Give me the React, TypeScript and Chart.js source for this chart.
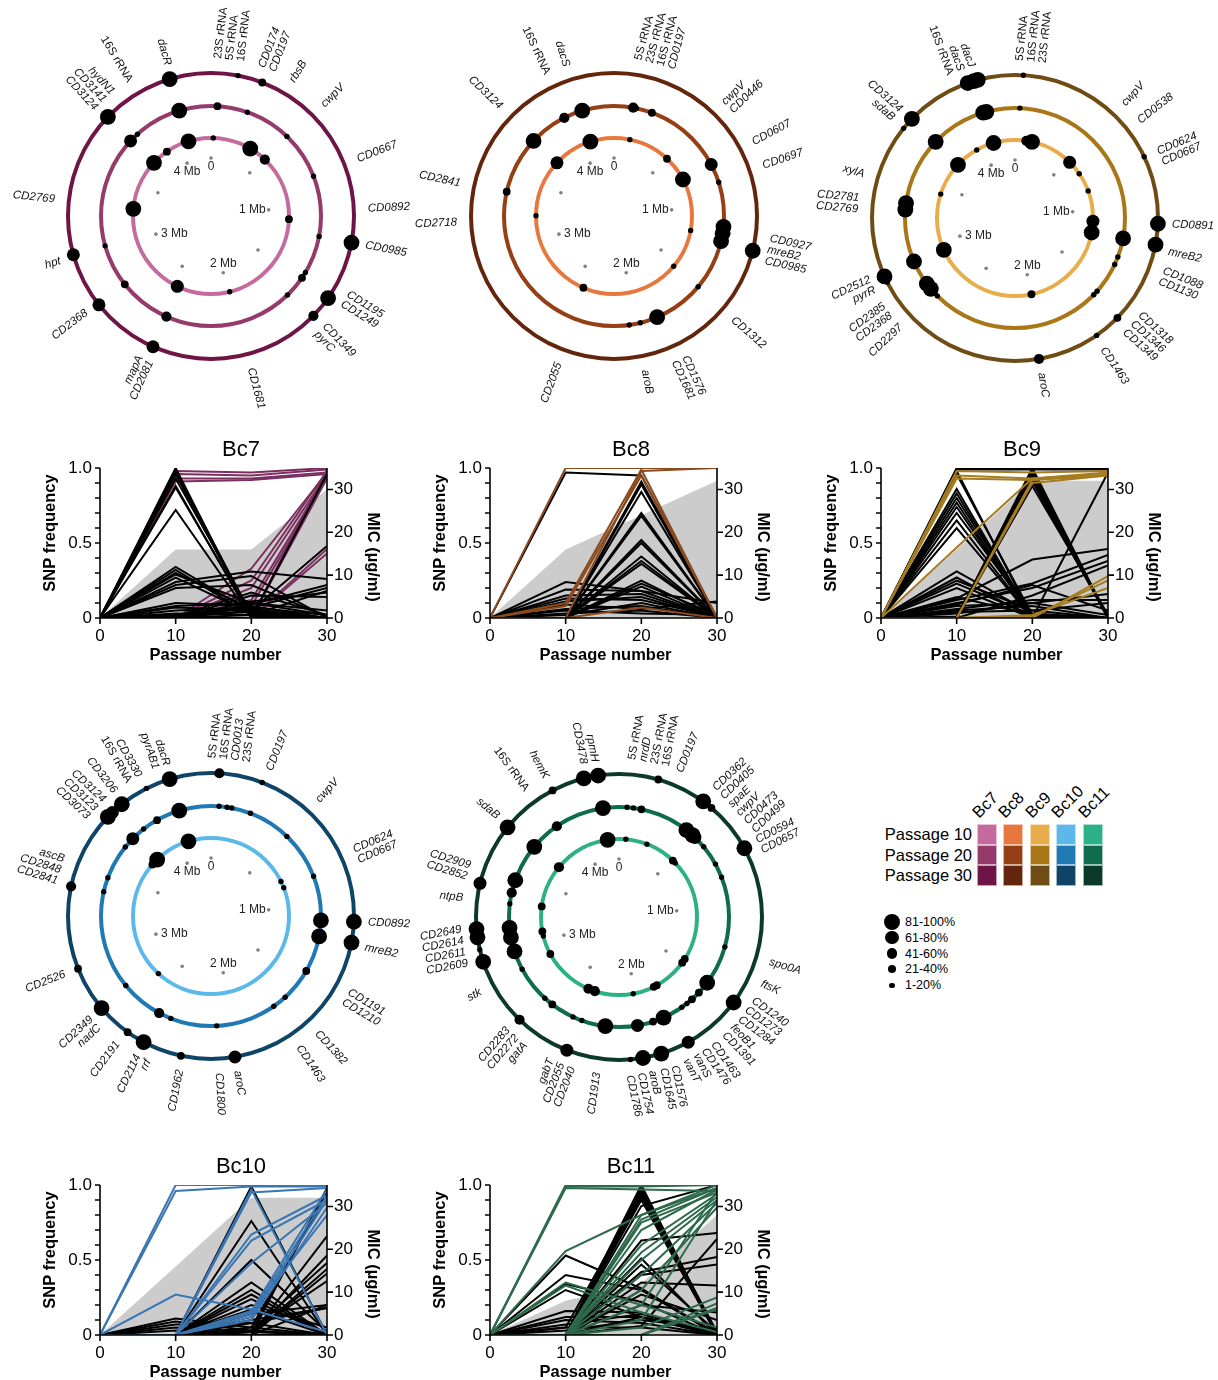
import React, { useEffect, useRef } from 'react';
import { Chart, registerables } from 'chart.js';

Chart.register(...registerables);

const FONT = "'Liberation Sans', Arial, Helvetica, sans-serif";

// ---- shared axes / scales ----
const GENOME_MB = 4.29;
const PASSAGES = [0, 10, 20, 30];
const MB_TICKS = [0, 0.5, 1, 1.5, 2, 2.5, 3, 3.5, 4];
const MB_LABELS = [0, 1, 2, 3, 4];
const FREQ_TICKS = [0, 0.1, 0.2, 0.3, 0.4, 0.5, 0.6, 0.7, 0.8, 0.9, 1];
const MIC_TICKS = [0, 10, 20, 30];
const SIZE_CLASSES = ['81-100%', '61-80%', '41-60%', '21-40%', '1-20%'];
const STRAINS = ['Bc7', 'Bc8', 'Bc9', 'Bc10', 'Bc11'];
const PASSAGE_ROWS = ['Passage 10', 'Passage 20', 'Passage 30'];

// ---- SNP positions on the genome map: [position (Mb), frequency class 1..5] ----
const bc7P10 = [[4.09, 5], [0.02, 1], [0.36, 5], [0.52, 3], [1.10, 2], [1.98, 1], [2.45, 4], [3.28, 5], [3.73, 5], [3.88, 2]];
const bc7P20 = [[4.09, 5], [0.04, 2], [0.23, 1], [0.52, 1], [0.82, 1], [1.20, 1], [1.44, 1], [1.48, 2], [1.62, 1], [2.43, 3], [2.76, 2], [3.03, 1], [3.73, 4], [3.79, 1]];
const bc7P30 = [[4.09, 5], [0.13, 1], [0.25, 2], [1.20, 5], [1.49, 5], [1.60, 3], [2.43, 4], [2.76, 4], [3.03, 4], [3.74, 5]];
const bc7Genes = [
  [0.08, '23S rRNA\n5S rRNA\n16S rRNA'], [0.25, 'CD0174\nCD0197'], [0.37, 'rbsB'], [0.54, 'cwpV'],
  [0.82, 'CD0667'], [1.04, 'CD0892'], [1.20, 'CD0985'], [1.45, 'CD1195\nCD1249'], [1.62, 'CD1349\npyrC'],
  [1.97, 'CD1681'], [2.44, 'mapA\nCD2081'], [2.77, 'CD2368'], [3.02, 'hpt'], [3.29, 'CD2769'],
  [3.78, 'hydN1\nCD3141\nCD3124'], [3.92, '16S rRNA'], [4.10, 'dacR'],
];

const bc8P10 = [[4.08, 5], [0.14, 1], [0.51, 2], [0.74, 5], [1.20, 1], [1.55, 1], [2.42, 2], [3.22, 1], [3.73, 4]];
const bc8P20 = [[4.09, 5], [3.97, 3], [0.12, 3], [0.14, 1], [0.24, 2], [0.74, 4], [0.86, 1], [1.14, 5], [1.18, 5], [1.23, 5], [1.55, 1], [1.87, 5], [1.98, 1], [2.05, 1], [3.73, 5], [3.37, 2]];
const bc8P30 = [[1.24, 5]];
const bc8Genes = [
  [0.18, '5S rRNA\n23S rRNA\n16S rRNA\nCD0197'], [0.55, 'cwpV\nCD0446'], [0.74, 'CD0607'], [0.85, 'CD0697'],
  [1.22, 'CD0927\nmreB2\nCD0985'], [1.56, 'CD1312'], [1.85, 'CD1576\nCD1681'], [2.01, 'aroB'], [2.39, 'CD2055'],
  [3.19, 'CD2718'], [3.36, 'CD2841'], [3.74, 'CD3124'], [3.99, '16S rRNA'], [4.08, 'dacS'],
];

const bc9P10 = [[4.10, 5], [3.94, 1], [0.15, 5], [0.10, 3], [0.53, 4], [0.66, 1], [0.83, 1], [1.10, 4], [1.20, 5], [2.00, 2], [2.93, 5], [3.43, 1], [3.73, 5]];
const bc9P20 = [[4.09, 5], [4.11, 5], [0.03, 1], [1.20, 5], [1.32, 1], [1.37, 1], [1.57, 1], [1.60, 1], [2.68, 1], [2.78, 5], [2.74, 5], [2.94, 5], [3.27, 5], [3.31, 5], [3.74, 5]];
const bc9P30 = [[4.06, 5], [4.09, 5], [4.11, 5], [0.04, 1], [0.77, 1], [1.10, 5], [1.20, 5], [1.60, 2], [1.73, 1], [2.03, 3], [2.93, 5], [2.90, 1], [3.74, 5], [3.68, 1]];
const bc9Genes = [
  [0.07, '5S rRNA\n16S rRNA\n23S rRNA'], [0.52, 'cwpV'], [0.62, 'CD0538'], [0.80, 'CD0624\nCD0667'],
  [1.10, 'CD0891'], [1.22, 'mreB2'], [1.33, 'CD1088\nCD1130'], [1.57, 'CD1318\nCD1346\nCD1349'],
  [1.74, 'CD1463'], [2.03, 'aroC'], [2.70, 'CD2297'], [2.79, 'CD2385\nCD2368'], [2.92, 'CD2512\npyrR'],
  [3.28, 'CD2781\nCD2769'], [3.41, 'xylA'], [3.71, 'CD3124\nsdaB'], [4.05, 'dacJ\ndacS\n16S rRNA'],
];

const bc10P10 = [[4.09, 5], [3.77, 5], [3.71, 2], [2.65, 1], [0.76, 1], [0.82, 1]];
const bc10P20 = [[4.09, 5], [3.94, 2], [3.84, 1], [3.75, 4], [3.68, 1], [3.46, 1], [3.37, 1], [2.75, 1], [2.48, 3], [2.40, 1], [2.11, 1], [1.73, 1], [1.64, 1], [1.43, 2], [1.10, 5], [1.20, 5], [0.82, 1], [0.52, 1], [0.25, 1], [0.05, 1], [0.10, 1], [0.13, 1]];
const bc10P30 = [[4.09, 5], [3.97, 1], [3.83, 5], [3.74, 5], [3.77, 4], [0.04, 3], [0.25, 1], [1.10, 5], [1.20, 5], [2.03, 4], [2.29, 2], [2.48, 5], [2.57, 2], [2.74, 5], [2.96, 2], [3.36, 3]];
const bc10Genes = [
  [0.08, '5S rRNA\n16S rRNA\nCD0013\n23S rRNA'], [0.26, 'CD0197'], [0.51, 'cwpV'], [0.80, 'CD0624\nCD0667'],
  [1.10, 'CD0892'], [1.21, 'mreB2'], [1.44, 'CD1191\nCD1210'], [1.64, 'CD1382'], [1.74, 'CD1463'],
  [2.03, 'aroC'], [2.11, 'CD1800'], [2.28, 'CD1962'], [2.45, 'CD2114\nrrf'], [2.58, 'CD2191'],
  [2.71, 'CD2349\nnadC'], [2.96, 'CD2526'], [3.42, 'ascB\nCD2848\nCD2841'], [3.73, 'CD3124\nCD3123\nCD3073'],
  [3.84, 'CD3206'], [3.94, 'CD3330\n16S rRNA'], [4.07, 'dacR\npyrAB1'],
];

const bc11P10 = [[4.19, 5], [0.06, 1], [0.25, 1], [0.52, 2], [0.55, 1], [3.69, 3], [3.31, 2], [3.09, 2], [3.05, 1], [2.88, 2], [2.36, 3], [2.42, 3], [2.02, 1], [1.80, 2], [1.83, 2], [1.46, 2], [1.50, 2]];
const bc11P20 = [[4.19, 5], [0.05, 1], [0.09, 1], [0.14, 2], [0.45, 5], [0.50, 5], [0.52, 4], [0.60, 1], [0.73, 1], [0.82, 1], [1.26, 1], [1.51, 5], [1.59, 2], [1.65, 2], [1.69, 1], [1.73, 1], [1.86, 5], [1.93, 2], [2.03, 4], [2.23, 5], [2.38, 1], [2.44, 1], [2.59, 2], [2.65, 1], [2.88, 1], [3.00, 5], [3.09, 5], [3.15, 5], [3.30, 1], [3.37, 3], [3.45, 5], [3.69, 5], [3.88, 3]];
const bc11P30 = [[4.12, 5], [4.19, 5], [0.19, 2], [0.43, 5], [0.48, 2], [0.73, 5], [1.51, 5], [1.80, 4], [1.94, 5], [2.03, 5], [2.09, 1], [2.40, 4], [2.67, 3], [3.00, 5], [3.06, 1], [3.12, 5], [3.16, 5], [3.38, 4], [3.68, 5], [3.96, 2]];
const bc11Genes = [
  [0.13, '5S rRNA\nnrdD\n23S rRNA\n16S rRNA'], [0.27, 'CD0197'], [0.56, 'CD0362\nCD0405\nspaE\ncwpV\nCD0473\nCD0499'],
  [0.75, 'CD0594\nCD0657'], [1.27, 'spo0A'], [1.37, 'ftsK'], [1.50, 'CD1240\nCD1273\nCD1284'], [1.62, 'feoB1\nCD1391'],
  [1.73, 'CD1463\nCD1476'], [1.82, 'vanS\nvanT'], [2.00, 'CD1576\nCD1645\naroB\nCD1754\nCD1786'], [2.24, 'CD1913'],
  [2.40, 'gabT\nCD2055\nCD2040'], [2.63, 'CD2283\nCD2272\ngatA'], [2.88, 'stk'], [3.09, 'CD2649\nCD2614\nCD2611\nCD2609'],
  [3.30, 'ntpB'], [3.42, 'CD2909\nCD2852'], [3.69, 'sdaB'], [3.86, '16S rRNA'], [3.96, 'hemK'], [4.16, 'rpmH\nCD3478'],
];

// ---- SNP frequency trajectories, values at passages 0, 10, 20, 30 ----
const bc7Mic = [0, 16, 16, 30];
const bc7Fixed = [
  [0, 0.98, 0.97, 1.0], [0, 0.96, 0.95, 0.99], [0, 0.93, 0.93, 0.97], [0, 0.91, 0.92, 0.96],
  [0, 0, 0.33, 0.97], [0, 0, 0.25, 0.98], [0, 0, 0.2, 0.96], [0, 0, 0.12, 0.95], [0, 0, 0.08, 0.94],
  [0, 0, 0, 0.99], [0, 0, 0, 0.93], [0, 0, 0, 0.46], [0, 0, 0, 0.43],
];
const bc7Other = [
  [0, 1.0, 0, 0], [0, 0.98, 0.02, 0], [0, 0.96, 0, 0], [0, 0.93, 0.03, 0], [0, 0.88, 0, 0], [0, 0.87, 0.01, 0], [0, 0.72, 0, 0],
  [0, 0.34, 0.04, 0], [0, 0.32, 0.02, 0], [0, 0.30, 0.06, 0], [0, 0.29, 0.1, 0.02], [0, 0.27, 0.03, 0], [0, 0.24, 0.31, 0.26],
  [0, 0.22, 0.28, 0], [0, 0.2, 0.22, 0.01], [0, 0.1, 0.08, 0], [0, 0.08, 0.1, 0.05], [0, 0.07, 0.05, 0], [0, 0.05, 0.07, 0.02],
  [0, 0.03, 0.02, 0], [0, 0.02, 0.04, 0], [0, 0, 0.05, 0.48], [0, 0, 0.09, 0.22], [0, 0, 0.07, 0.2], [0, 0, 0.11, 0.17],
  [0, 0, 0.15, 0.14], [0, 0, 0.02, 0.18], [0, 0, 0, 0.96], [0, 0.01, 0.17, 0.02],
];

const bc8Mic = [0, 16, 24, 32];
const bc8Fixed = [
  [0, 1.0, 1.0, 1.0], [0, 0.1, 0.99, 0], [0, 0, 0.98, 1.0], [0, 0.08, 0.95, 0], [0, 0, 0.07, 0],
];
const bc8Other = [
  [0, 0.97, 0.95, 0], [0, 0, 0.91, 0], [0, 0, 0.89, 0], [0, 0, 0.84, 0], [0, 0, 0.7, 0], [0, 0, 0.68, 0], [0, 0, 0.52, 0],
  [0, 0, 0.5, 0], [0, 0, 0.41, 0], [0, 0, 0.38, 0], [0, 0, 0.36, 0], [0, 0, 0.25, 0], [0, 0, 0.23, 0.02], [0, 0, 0.21, 0],
  [0, 0.24, 0.18, 0], [0, 0.19, 0.18, 0.1], [0, 0.15, 0.16, 0], [0, 0.13, 0.12, 0.01], [0, 0.11, 0.14, 0], [0, 0.09, 0.06, 0.11],
  [0, 0.06, 0.08, 0], [0, 0.05, 0.03, 0.02], [0, 0.02, 0.1, 0], [0, 0.03, 0.05, 0],
];

const bc9Mic = [0, 16, 32, 32];
const bc9Fixed = [
  [0, 0.98, 0.97, 0.98], [0, 0.95, 0.93, 0.96], [0, 0.93, 0.92, 0.95], [0, 0.47, 0.93, 0.97],
  [0, 0, 0.92, 0.96], [0, 0, 0.9, 0.95], [0, 0, 0, 0.28], [0, 0, 0.01, 0.25], [0, 0, 0.02, 0.2],
];
const bc9Other = [
  [0, 1.0, 1.0, 1.0], [0, 0.99, 0.99, 0.99], [0, 0.98, 0, 0], [0, 0.96, 0.02, 0], [0, 0.86, 0, 0], [0, 0.83, 0, 0],
  [0, 0.8, 0.01, 0], [0, 0.77, 0, 0], [0, 0.74, 0, 0], [0, 0.7, 0.02, 0], [0, 0.65, 0, 0], [0, 0.6, 0, 0],
  [0, 0, 1.0, 0], [0, 0, 0.98, 0], [0, 0, 0.96, 0.01], [0, 0, 0.94, 0], [0, 0, 0.91, 0], [0, 0, 0.88, 0.02], [0, 0.01, 0.93, 0],
  [0, 0.31, 0.03, 0], [0, 0.27, 0, 0], [0, 0.25, 0.05, 0], [0, 0.23, 0.02, 0], [0, 0.2, 0, 0], [0, 0.14, 0.02, 0],
  [0, 0.13, 0.39, 0.46], [0, 0.12, 0.23, 0.42], [0, 0.1, 0.2, 0.38], [0, 0.09, 0.22, 0.05], [0, 0.08, 0.1, 0.16],
  [0, 0.06, 0.12, 0.12], [0, 0.04, 0.05, 0.1], [0, 0, 0, 0.97], [0, 0, 0.15, 0.35], [0, 0.05, 0.08, 0], [0, 0.03, 0.1, 0.02],
];

const bc10Mic = [0, 16, 32, 32];
const bc10Fixed = [
  [0, 1.0, 1.0, 1.0], [0, 0.96, 0.99, 0.99], [0, 0.27, 0.17, 0.02], [0, 0, 0.97, 0], [0, 0, 0.95, 0.98],
  [0, 0, 0.67, 0.93], [0, 0, 0.63, 0.9], [0, 0, 0.48, 0.88], [0, 0, 0.16, 0.97], [0, 0, 0.14, 0.93],
  [0, 0, 0.12, 0.9], [0, 0, 0.1, 0.85], [0, 0, 0.15, 0.8],
];
const bc10Other = [
  [0, 0, 0.99, 0], [0, 0, 0.76, 0], [0, 0, 0.5, 0.02], [0, 0, 0.35, 0], [0, 0, 0.3, 0], [0, 0, 0.27, 0], [0, 0, 0.24, 0],
  [0, 0, 0.2, 0.05], [0, 0, 0.17, 0], [0, 0, 0.14, 0.2], [0, 0, 0.1, 0.18], [0, 0.11, 0.05, 0], [0, 0.09, 0.03, 0],
  [0, 0.07, 0.08, 0], [0, 0.05, 0.02, 0], [0, 0.03, 0, 0], [0, 0, 0, 0.98], [0, 0, 0.02, 0.96], [0, 0, 0.05, 0.94],
  [0, 0, 0, 0.66], [0, 0, 0, 0.53], [0, 0, 0.03, 0.48], [0, 0, 0, 0.44], [0, 0, 0, 0.41], [0, 0, 0.02, 0.36],
  [0, 0, 0, 0.2], [0, 0, 0.08, 0.18],
];

const bc11Mic = [0, 8, 12, 28];
const bc11Fixed = [
  [0, 1.0, 1.0, 1.0], [0, 0.98, 0.97, 0.96], [0, 0.99, 0.99, 1.0], [0, 0.56, 0.8, 0.98], [0, 0.35, 0.2, 0.05],
  [0, 0.33, 0.15, 0.02], [0, 0, 0.8, 1.0], [0, 0, 0.77, 0.98], [0, 0, 0.75, 0.95], [0, 0, 0.7, 0.97],
  [0, 0, 0.6, 0.94], [0, 0, 0.55, 0.92], [0, 0, 0.5, 0.9], [0, 0, 0.4, 0.88], [0, 0, 0.3, 0.85],
  [0, 0, 0.2, 0.96], [0, 0, 0.1, 0.9], [0, 0, 0, 0.21], [0, 0, 0, 0.18], [0, 0, 0.05, 0.25], [0, 0, 0, 0.17],
];
const bc11Other = [
  [0, 0.53, 0.31, 0], [0, 0.4, 0.3, 0.01], [0, 0.34, 0.22, 0], [0, 0.3, 0.12, 0], [0, 0, 1.0, 0], [0, 0, 0.98, 0],
  [0, 0, 0.96, 0.02], [0, 0, 0.94, 0], [0, 0, 0.92, 0], [0, 0, 0.9, 0], [0, 0.05, 0.95, 0], [0, 0, 0.86, 1.0],
  [0, 0, 0.63, 0.68], [0, 0, 0.51, 0], [0, 0, 0.47, 0.02], [0, 0, 0.42, 0.52], [0, 0, 0.4, 0.47], [0, 0, 0.35, 0.33],
  [0, 0, 0.3, 0], [0, 0, 0.27, 0.1], [0, 0, 0.2, 0.15], [0, 0.16, 0.15, 0], [0, 0.12, 0.12, 0.02], [0, 0.1, 0.08, 0],
  [0, 0.07, 0.14, 0], [0, 0.05, 0.05, 0], [0, 0.03, 0.1, 0.04], [0, 0, 0.12, 0], [0, 0, 0.06, 0.64],
];

// ---- styling ----
const RING_COLORS: Record<string, string[]> = {
  Bc7: ['#c46a9e', '#953a6b', '#6e1446'],
  Bc8: ['#e8773d', '#963f14', '#64250d'],
  Bc9: ['#e9ac4a', '#a97718', '#6f4c13'],
  Bc10: ['#5bb8e8', '#2079b3', '#0e4467'],
  Bc11: ['#2cb085', '#0f6d4e', '#0b3a2a'],
};
const TRACE_COLORS: Record<string, string> = {
  Bc7: '#7b2f61', Bc8: '#8a4a1d', Bc9: '#a57c1f', Bc10: '#3a76b2', Bc11: '#2e6a4b',
};
const RING_RADII = [78, 110, 143];
const DOT_RADII = [0, 2.7, 3.9, 5.1, 6.5, 7.9];
const LEGEND_DOT_RADII = [8, 6.6, 5.3, 4, 2.7];
const GENE_LABEL_RADIUS = 157;
const MB_MARK_RADIUS = 58;
const MB_LABEL_SIDE = ['below', 'left', 'above', 'right', 'below'];
const GENE_LINE_HEIGHT = 11.5;
const MAP_SIZE = 440;

function angleOf(mb: number) {
  return (mb / GENOME_MB) * Math.PI * 2;
}

function makeGenomePlugin(colors: string[], genes: any[]) {
  return {
    id: 'genomeMap',
    beforeDatasetsDraw(chart: any) {
      const { ctx, scales } = chart;
      const cx = scales.x.getPixelForValue(0);
      const cy = scales.y.getPixelForValue(0);
      ctx.save();
      ctx.lineWidth = 4;
      RING_RADII.forEach((r, i) => {
        ctx.strokeStyle = colors[i];
        ctx.beginPath();
        ctx.arc(cx, cy, scales.x.getPixelForValue(r) - cx, 0, Math.PI * 2);
        ctx.stroke();
      });
      ctx.restore();
    },
    afterDatasetsDraw(chart: any) {
      const { ctx, scales } = chart;
      const cx = scales.x.getPixelForValue(0);
      const cy = scales.y.getPixelForValue(0);
      const px = (r: number) => scales.x.getPixelForValue(r) - cx;
      ctx.save();
      // Mb scale labels
      ctx.font = `12px ${FONT}`;
      ctx.fillStyle = '#222';
      ctx.textAlign = 'center';
      ctx.textBaseline = 'middle';
      MB_LABELS.forEach((mb, i) => {
        const t = angleOf(mb);
        const mx = cx + px(MB_MARK_RADIUS) * Math.sin(t);
        const my = cy - px(MB_MARK_RADIUS) * Math.cos(t);
        const txt = mb === 0 ? '0' : `${mb} Mb`;
        const w = ctx.measureText(txt).width;
        let tx = mx;
        let ty = my;
        if (MB_LABEL_SIDE[i] === 'below') ty = my + 9;
        if (MB_LABEL_SIDE[i] === 'above') ty = my - 9;
        if (MB_LABEL_SIDE[i] === 'left') tx = mx - 3 - w / 2;
        if (MB_LABEL_SIDE[i] === 'right') tx = mx + 5 + w / 2;
        ctx.fillText(txt, tx, ty);
      });
      // gene labels around the outer ring (rRNA operons upright, loci italic)
      ctx.fillStyle = '#111';
      ctx.textBaseline = 'middle';
      const R = px(GENE_LABEL_RADIUS);
      genes.forEach(([mb, text]) => {
        const t = angleOf(mb);
        const rightSide = t < Math.PI;
        const lines = String(text).split('\n');
        ctx.save();
        ctx.translate(cx + R * Math.sin(t), cy - R * Math.cos(t));
        ctx.rotate(rightSide ? t - Math.PI / 2 : t - (3 * Math.PI) / 2);
        ctx.textAlign = rightSide ? 'left' : 'right';
        lines.forEach((ln, i) => {
          ctx.font = ln.includes('rRNA') ? `11.5px ${FONT}` : `italic 11.5px ${FONT}`;
          ctx.fillText(ln, 0, (i - (lines.length - 1) / 2) * GENE_LINE_HEIGHT);
        });
        ctx.restore();
      });
      ctx.restore();
    },
  };
}

function GenomeMap({ strain, p10, p20, p30, genes, cx, cy }: any) {
  const ref = useRef<HTMLCanvasElement>(null);
  useEffect(() => {
    const rings = [p10, p20, p30];
    const snpPoints: any[] = [];
    rings.forEach((list: number[][], ri: number) => {
      list.forEach(([mb, cls]) => {
        const t = angleOf(mb);
        snpPoints.push({ x: RING_RADII[ri] * Math.sin(t), y: RING_RADII[ri] * Math.cos(t), cls });
      });
    });
    const markPoints = MB_TICKS.map((mb) => {
      const t = angleOf(mb);
      return { x: MB_MARK_RADIUS * Math.sin(t), y: MB_MARK_RADIUS * Math.cos(t) };
    });
    const half = MAP_SIZE / 2;
    const chart = new Chart(ref.current as HTMLCanvasElement, {
      type: 'scatter',
      data: {
        datasets: [
          {
            data: snpPoints,
            backgroundColor: '#000',
            borderWidth: 0,
            pointRadius: (c: any) => DOT_RADII[c.raw ? c.raw.cls : 1],
            pointHoverRadius: (c: any) => DOT_RADII[c.raw ? c.raw.cls : 1],
          },
          {
            data: markPoints,
            backgroundColor: '#808080',
            borderWidth: 0,
            pointRadius: 1.8,
          },
        ],
      } as any,
      options: {
        responsive: false,
        maintainAspectRatio: false,
        animation: false,
        events: [],
        layout: { autoPadding: false, padding: 0 },
        plugins: { legend: { display: false }, tooltip: { enabled: false } },
        scales: {
          x: { type: 'linear', min: -half, max: half, display: false },
          y: { type: 'linear', min: -half, max: half, display: false },
        },
      } as any,
      plugins: [makeGenomePlugin(RING_COLORS[strain], genes)],
    });
    return () => chart.destroy();
  }, []);
  return (
    <canvas
      ref={ref}
      width={MAP_SIZE}
      height={MAP_SIZE}
      style={{ position: 'absolute', left: cx - MAP_SIZE / 2, top: cy - MAP_SIZE / 2, width: MAP_SIZE, height: MAP_SIZE }}
    />
  );
}

function makeAxesPlugin(title: string) {
  return {
    id: 'passageAxes',
    afterDatasetsDraw(chart: any) {
      const { ctx, chartArea, scales } = chart;
      const { left, right, top, bottom } = chartArea;
      ctx.save();
      ctx.strokeStyle = '#000';
      ctx.lineWidth = 1.6;
      ctx.beginPath();
      ctx.moveTo(left, top);
      ctx.lineTo(left, bottom);
      ctx.lineTo(right, bottom);
      ctx.lineTo(right, top);
      FREQ_TICKS.forEach((v) => {
        const py = scales.y.getPixelForValue(v);
        ctx.moveTo(left, py);
        ctx.lineTo(left - 5, py);
      });
      MIC_TICKS.forEach((v) => {
        const py = scales.y1.getPixelForValue(v);
        ctx.moveTo(right, py);
        ctx.lineTo(right + 6, py);
      });
      PASSAGES.forEach((v) => {
        const px = scales.x.getPixelForValue(v);
        ctx.moveTo(px, bottom);
        ctx.lineTo(px, bottom + 6);
      });
      ctx.stroke();

      ctx.fillStyle = '#000';
      ctx.textAlign = 'center';
      ctx.textBaseline = 'alphabetic';
      ctx.font = `22px ${FONT}`;
      ctx.fillText(title, left + 141, top - 12);

      ctx.font = `bold 16.5px ${FONT}`;
      ctx.textBaseline = 'middle';
      ctx.fillText('Passage number', (left + right) / 2 + 2, bottom + 37);

      ctx.save();
      ctx.translate(left - 50, top + 65);
      ctx.rotate(-Math.PI / 2);
      ctx.fillText('SNP frequency', 0, 0);
      ctx.restore();

      ctx.save();
      ctx.translate(right + 46, top + 89);
      ctx.rotate(Math.PI / 2);
      ctx.fillText('MIC (µg/ml)', 0, 0);
      ctx.restore();

      ctx.restore();
    },
  };
}

const TICK_FONT = { family: FONT, size: 17 };

function PassageChart({ strain, mic, fixed, other, left, top, blackOnTop }: any) {
  const ref = useRef<HTMLCanvasElement>(null);
  useEffect(() => {
    const pts = (vals: number[]) => vals.map((v, i) => ({ x: PASSAGES[i], y: v }));
    const lineBase = { borderWidth: 2, pointRadius: 0, fill: false, tension: 0, yAxisID: 'y' };
    const datasets: any[] = [
      ...fixed.map((v: number[]) => ({ ...lineBase, data: pts(v), borderColor: TRACE_COLORS[strain], order: blackOnTop ? 1 : 0 })),
      ...other.map((v: number[]) => ({ ...lineBase, data: pts(v), borderColor: '#000', order: blackOnTop ? 0 : 1 })),
      {
        data: pts(mic),
        yAxisID: 'y1',
        borderWidth: 0,
        pointRadius: 0,
        backgroundColor: '#cccccc',
        fill: 'origin',
        tension: 0,
        order: 2,
      },
    ];
    const chart = new Chart(ref.current as HTMLCanvasElement, {
      type: 'line',
      data: { datasets },
      options: {
        responsive: false,
        maintainAspectRatio: false,
        animation: false,
        events: [],
        layout: { autoPadding: false, padding: { top: 38, left: 0, right: 0, bottom: 0 } },
        plugins: { legend: { display: false }, tooltip: { enabled: false } },
        scales: {
          x: {
            type: 'linear', min: 0, max: 30,
            ticks: { stepSize: 10, padding: 8, color: '#000', font: TICK_FONT },
            grid: { display: false, drawTicks: false }, border: { display: false },
            afterFit: (s: any) => { s.height = 57; },
          },
          y: {
            type: 'linear', position: 'left', min: 0, max: 1,
            ticks: {
              stepSize: 0.5, padding: 8, color: '#000', font: TICK_FONT,
              callback: (v: any) => (Number(v) === 0 ? '0' : Number(v).toFixed(1)),
            },
            grid: { display: false, drawTicks: false }, border: { display: false },
            afterFit: (s: any) => { s.width = 70; },
          },
          y1: {
            type: 'linear', position: 'right', min: 0, max: 35,
            ticks: { stepSize: 10, includeBounds: false, padding: 7, color: '#000', font: TICK_FONT },
            grid: { display: false, drawTicks: false }, border: { display: false },
            afterFit: (s: any) => { s.width = 73; },
          },
        },
      } as any,
      plugins: [makeAxesPlugin(strain)],
    });
    return () => chart.destroy();
  }, []);
  return (
    <canvas
      ref={ref}
      width={370}
      height={245}
      style={{ position: 'absolute', left, top, width: 370, height: 245 }}
    />
  );
}

function Legend() {
  const colX = [977, 1003, 1030, 1056, 1083];
  const rowY = [824, 844.5, 865];
  return (
    <>
      {PASSAGE_ROWS.map((row, i) => (
        <div
          key={row}
          style={{
            position: 'absolute', left: 860, width: 112, top: rowY[i], height: 20.5, lineHeight: '20.5px',
            textAlign: 'right', fontSize: 16.5, color: '#000', fontFamily: FONT, whiteSpace: 'nowrap',
          }}
        >
          {row}
        </div>
      ))}
      {STRAINS.map((s, ci) => (
        <React.Fragment key={s}>
          <div
            style={{
              position: 'absolute', left: colX[ci] + 4, top: 803, fontSize: 16.5, lineHeight: '18px',
              fontFamily: FONT, color: '#000', transform: 'rotate(-45deg)', transformOrigin: '0% 100%', whiteSpace: 'nowrap',
            }}
          >
            {s}
          </div>
          {RING_COLORS[s].map((c, ri) => (
            <div
              key={c}
              style={{
                position: 'absolute', left: colX[ci], top: rowY[ri], width: 20, height: 20.5,
                background: c, boxSizing: 'border-box', border: '0.5px solid rgba(255,255,255,0.6)',
              }}
            />
          ))}
        </React.Fragment>
      ))}
      {SIZE_CLASSES.map((label, i) => {
        const cy = 922 + i * 15.8;
        const r = LEGEND_DOT_RADII[i];
        return (
          <React.Fragment key={label}>
            <div
              style={{
                position: 'absolute', left: 892 - r, top: cy - r, width: 2 * r, height: 2 * r,
                borderRadius: '50%', background: '#000',
              }}
            />
            <div
              style={{
                position: 'absolute', left: 905, top: cy - 8, height: 16, lineHeight: '16px',
                fontSize: 12.5, fontFamily: FONT, color: '#000', whiteSpace: 'nowrap',
              }}
            >
              {label}
            </div>
          </React.Fragment>
        );
      })}
    </>
  );
}

export default function App() {
  return (
    <div
      style={{
        position: 'absolute', left: 0, top: 0, width: 1218, height: 1380, overflow: 'hidden',
        background: '#fff', fontFamily: FONT,
      }}
    >
      <GenomeMap strain="Bc7" p10={bc7P10} p20={bc7P20} p30={bc7P30} genes={bc7Genes} cx={211} cy={216} />
      <GenomeMap strain="Bc8" p10={bc8P10} p20={bc8P20} p30={bc8P30} genes={bc8Genes} cx={614} cy={216} />
      <GenomeMap strain="Bc9" p10={bc9P10} p20={bc9P20} p30={bc9P30} genes={bc9Genes} cx={1015} cy={218} />
      <GenomeMap strain="Bc10" p10={bc10P10} p20={bc10P20} p30={bc10P30} genes={bc10Genes} cx={211} cy={916} />
      <GenomeMap strain="Bc11" p10={bc11P10} p20={bc11P20} p30={bc11P30} genes={bc11Genes} cx={619} cy={917} />

      <PassageChart strain="Bc7" mic={bc7Mic} fixed={bc7Fixed} other={bc7Other} left={30} top={430} blackOnTop />
      <PassageChart strain="Bc8" mic={bc8Mic} fixed={bc8Fixed} other={bc8Other} left={420} top={430} />
      <PassageChart strain="Bc9" mic={bc9Mic} fixed={bc9Fixed} other={bc9Other} left={811} top={430} />
      <PassageChart strain="Bc10" mic={bc10Mic} fixed={bc10Fixed} other={bc10Other} left={30} top={1147} />
      <PassageChart strain="Bc11" mic={bc11Mic} fixed={bc11Fixed} other={bc11Other} left={420} top={1147} />

      <Legend />
    </div>
  );
}
